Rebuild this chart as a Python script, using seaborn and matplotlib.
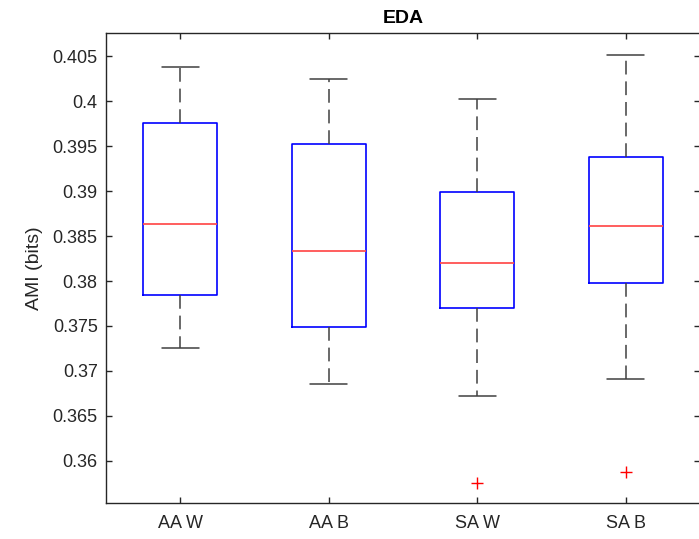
import matplotlib
matplotlib.use("Agg")
import matplotlib.pyplot as plt
import seaborn as sns
import pandas as pd
import numpy as np

# Data (values consistent with the box-plot summary)
groups = ["AA W", "AA B", "SA W", "SA B"]
aa_w = [0.3725, 0.3785, 0.3863, 0.3976, 0.4038]
aa_b = [0.3686, 0.3749, 0.3833, 0.3952, 0.4024]
sa_w = [0.3575, 0.3672, 0.3770, 0.3770, 0.3820, 0.3899, 0.3899, 0.4002, 0.4002]
sa_b = [0.3588, 0.3691, 0.3798, 0.3798, 0.3861, 0.3938, 0.3938, 0.4051, 0.4051]
yticks = [0.36, 0.365, 0.37, 0.375, 0.38, 0.385, 0.39, 0.395, 0.4, 0.405]
ytick_labels = ["0.36", "0.365", "0.37", "0.375", "0.38", "0.385", "0.39", "0.395", "0.4", "0.405"]

values = [aa_w, aa_b, sa_w, sa_b]
df = pd.DataFrame({
    "group": np.concatenate([[g] * len(v) for g, v in zip(groups, values)]),
    "AMI": np.concatenate(values),
})

sns.set_style("white")
plt.rcParams["font.family"] = ["Liberation Sans", "DejaVu Sans"]

fig = plt.figure(figsize=(6.99, 5.39), dpi=100)
ax = fig.add_axes([106 / 699, 1 - 503 / 539, 594 / 699, 470 / 539])

dark = (0.15, 0.15, 0.15)
sns.boxplot(
    data=df, x="group", y="AMI", order=groups, ax=ax,
    fill=False, width=0.5, whis=1.2,
    boxprops=dict(color="blue", linewidth=1.2),
    medianprops=dict(color="#ff5050", linewidth=1.3),
    whiskerprops=dict(color=(0.25, 0.25, 0.25), linewidth=1.1, linestyle=(0, (9, 4.5))),
    capprops=dict(color=(0.25, 0.25, 0.25), linewidth=1.1),
    flierprops=dict(marker="+", markeredgecolor="red", markerfacecolor="red",
                    markersize=9, markeredgewidth=1.0),
)

ax.set_xlim(-0.5, 3.5)
ax.set_ylim(0.35533, 0.40756)
ax.set_yticks(yticks)
ax.set_yticklabels(ytick_labels)
ax.set_xlabel("")
ax.set_ylabel("AMI (bits)", fontsize=14, color=dark, labelpad=7)
ax.set_title("EDA", fontsize=14, fontweight="bold", color="black", pad=7)

for s in ax.spines.values():
    s.set_visible(True)
    s.set_color(dark)
    s.set_linewidth(1.0)
ax.tick_params(axis="both", which="both", direction="in", length=4,
               width=1.0, color=dark, labelcolor=dark, labelsize=13,
               top=True, right=True, bottom=True, left=True)
ax.tick_params(axis="x", pad=9)
ax.tick_params(axis="y", pad=6)

fig.savefig("out.png", dpi=100)
